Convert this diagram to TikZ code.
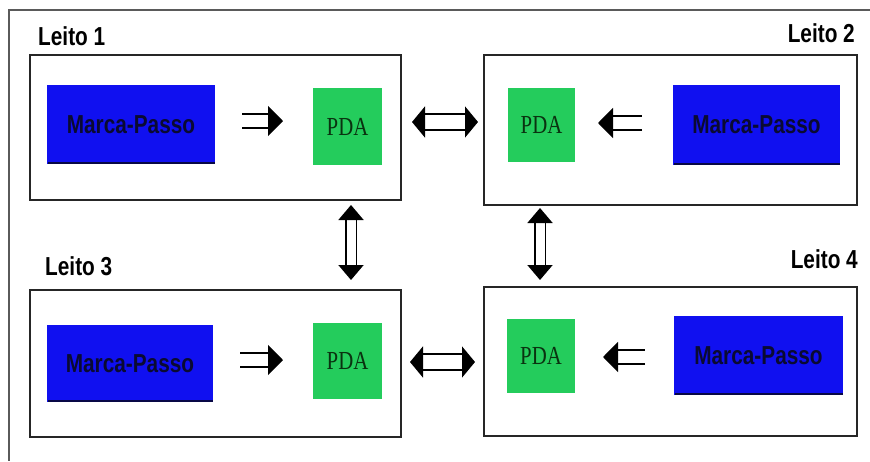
\documentclass[tikz,border=0pt]{standalone}
\usepackage{fontspec}
\setmainfont{Liberation Serif}
\newfontfamily\labelfont{Liberation Sans}
\usetikzlibrary{arrows.meta,calc}

\definecolor{pacerblue}{RGB}{16,16,240}
\definecolor{pacershade}{RGB}{8,8,70}
\definecolor{pacertext}{RGB}{10,10,50}
\definecolor{pdagreen}{RGB}{36,204,92}
\definecolor{pdatext}{RGB}{10,50,16}
\definecolor{framegray}{RGB}{90,90,90}

% horizontally condensed text
\newcommand\cond[1]{\scalebox{0.8}[1]{#1}}

\tikzset{
  frameline/.style={draw=framegray, line width=1.2pt},
  bed/.style={draw=black!85, line width=1.6pt, inner sep=0pt, outer sep=0pt},
  bedlabel/.style={font=\labelfont\bfseries\fontsize{26}{26}\selectfont, inner sep=0pt},
  pacer/.style={fill=pacerblue, inner sep=0pt, outer sep=0pt, text=pacertext,
    font=\labelfont\bfseries\fontsize{26}{26}\selectfont},
  pdabox/.style={fill=pdagreen, inner sep=0pt, outer sep=0pt, text=pdatext,
    font=\fontsize{26}{26}\selectfont},
  hollow/.style={draw=black, line width=1.9pt, double=white},
  feed/.style={hollow, double distance=12.5pt, -{Triangle[length=15pt,width=30pt]}},
  link/.style={hollow, double distance=13.5pt,
    {Triangle[length=13pt,width=31pt]}-{Triangle[length=13pt,width=31pt]}},
  vlink/.style={hollow, double distance=9pt,
    {Triangle[length=15pt,width=25pt]}-{Triangle[length=15pt,width=25pt]}},
}

\begin{document}
\begin{tikzpicture}[x=1pt, y=-1pt]
  \useasboundingbox (0,0) rectangle (870,461);

  % outer frame (top and left edges)
  \draw[frameline] (870,10) -- (9,10) -- (9,461);

  % the four beds
  \node[bed, minimum width=371pt, minimum height=145pt] (box1) at (215.5,127.5) {};
  \node[bed, minimum width=373pt, minimum height=150pt] (box2) at (670.5,130) {};
  \node[bed, minimum width=371pt, minimum height=147pt] (box3) at (215.5,363.5) {};
  \node[bed, minimum width=373pt, minimum height=149pt] (box4) at (670.5,361.5) {};

  % bed titles
  \node[bedlabel, anchor=base west] (t1) at (38,45)  {\cond{Leito 1}};
  \node[bedlabel, anchor=base east] (t2) at (855,42) {\cond{Leito 2}};
  \node[bedlabel, anchor=base west] (t3) at (45,275) {\cond{Leito 3}};
  \node[bedlabel, anchor=base east] (t4) at (858,268) {\cond{Leito 4}};

  % pacemakers
  \node[pacer, minimum width=168pt, minimum height=79pt] (mp1) at (131,124.5) {\cond{Marca-Passo}};
  \node[pacer, minimum width=167pt, minimum height=80pt] (mp2) at (756.5,125) {\cond{Marca-Passo}};
  \node[pacer, minimum width=166pt, minimum height=77pt] (mp3) at (130,363.5) {\cond{Marca-Passo}};
  \node[pacer, minimum width=169pt, minimum height=79pt] (mp4) at (758.5,355.5) {\cond{Marca-Passo}};
  \foreach \m in {mp1,mp2,mp3,mp4}
    \draw[pacershade, line width=2pt]
      ($(\m.south west)+(1,-1)$) -- ($(\m.south east)+(0,-1)$);

  % handhelds
  \node[pdabox, minimum width=69pt, minimum height=77pt] (pda1) at (347.5,126.5) {\cond{PDA}};
  \node[pdabox, minimum width=67pt, minimum height=74pt] (pda2) at (541.5,125)   {\cond{PDA}};
  \node[pdabox, minimum width=69pt, minimum height=76pt] (pda3) at (347.5,361)   {\cond{PDA}};
  \node[pdabox, minimum width=68pt, minimum height=74pt] (pda4) at (541,356)     {\cond{PDA}};

  % arrow rows and columns
  \coordinate (r1) at (0,121);
  \coordinate (r2) at (0,123);
  \coordinate (r3) at (0,360);
  \coordinate (r4) at (0,357);
  \coordinate (rt) at (0,122);
  \coordinate (rb) at (0,362);
  \coordinate (cl) at (351,0);
  \coordinate (cr) at (540,0);

  % pacemaker -> PDA
  \draw[feed, shorten <=27pt, shorten >=30pt] (mp1.east |- r1) -- (pda1.west |- r1);
  \draw[feed, shorten <=31pt, shorten >=23pt] (mp2.west |- r2) -- (pda2.east |- r2);
  \draw[feed, shorten <=27pt, shorten >=30pt] (mp3.east |- r3) -- (pda3.west |- r3);
  \draw[feed, shorten <=29pt, shorten >=28pt] (mp4.west |- r4) -- (pda4.east |- r4);

  % PDA <-> PDA
  \draw[link, shorten <=30pt, shorten >=30pt] (pda1.east |- rt) -- (pda2.west |- rt);
  \draw[link, shorten <=28pt, shorten >=32pt] (pda3.east |- rb) -- (pda4.west |- rb);

  % bed <-> bed
  \draw[vlink, shorten <=5pt, shorten >=10pt] (box1.south -| cl) -- (box3.north -| cl);
  \draw[vlink, shorten <=3pt, shorten >=7pt]  (box2.south -| cr) -- (box4.north -| cr);
\end{tikzpicture}
\end{document}
